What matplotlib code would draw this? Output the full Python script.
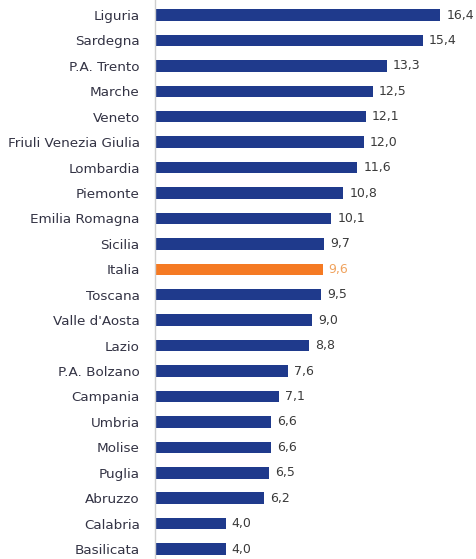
import matplotlib.pyplot as plt

regioni = ["Liguria", "Sardegna", "P.A. Trento", "Marche", "Veneto",
           "Friuli Venezia Giulia", "Lombardia", "Piemonte", "Emilia Romagna",
           "Sicilia", "Italia", "Toscana", "Valle d'Aosta", "Lazio",
           "P.A. Bolzano", "Campania", "Umbria", "Molise", "Puglia",
           "Abruzzo", "Calabria", "Basilicata"]
valori = [16.4, 15.4, 13.3, 12.5, 12.1, 12.0, 11.6, 10.8, 10.1, 9.7, 9.6,
          9.5, 9.0, 8.8, 7.6, 7.1, 6.6, 6.6, 6.5, 6.2, 4.0, 4.0]

BLU = "#1f3a8c"
ARANCIO = "#f57a23"

fig = plt.figure(figsize=(4.76, 5.59), dpi=100)
ax = fig.add_axes([155 / 476, 0, 1 - 155 / 476, 1])

pos = list(range(len(regioni)))
colori = [ARANCIO if r == "Italia" else BLU for r in regioni]
ax.barh(pos, valori, height=0.45, color=colori, left=0.08)

for i, v in enumerate(valori):
    c = "#f0a35e" if regioni[i] == "Italia" else "#3a3a3a"
    ax.text(v + 0.08 + 0.35, i, f"{v:.1f}".replace(".", ","), va="center",
            ha="left", fontsize=9, color=c)

ax.set_yticks(pos)
ax.set_yticklabels(regioni, fontsize=9.7, color="#333344")
ax.tick_params(axis="y", length=0, pad=11)
ax.set_xticks([])
ax.set_xlim(0, 18.55)
ax.set_ylim(21.39, -0.59)

for s in ["top", "right", "bottom"]:
    ax.spines[s].set_visible(False)
ax.spines["left"].set_color("#cfcfcf")
ax.spines["left"].set_linewidth(1)

fig.savefig("out.png", dpi=100)
